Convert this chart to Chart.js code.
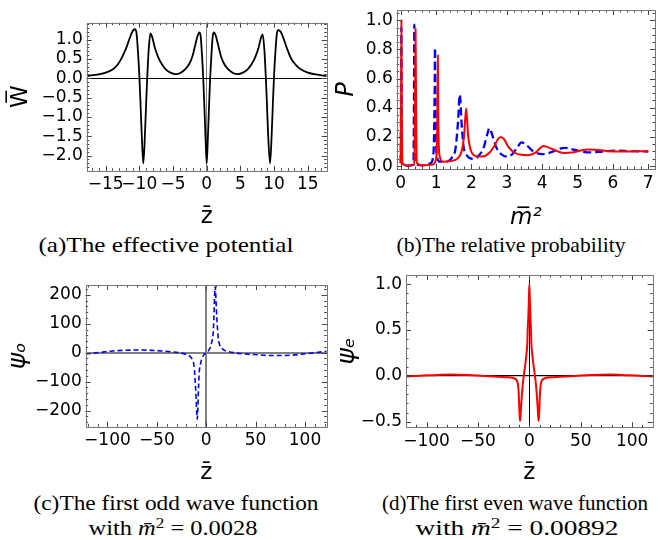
<!DOCTYPE html>
<html><head><meta charset="utf-8">
<script src="https://cdn.jsdelivr.net/npm/chart.js@4.4.1/dist/chart.umd.min.js"></script>
<style>
html,body{margin:0;padding:0;background:#fff;width:665px;height:540px;overflow:hidden}
canvas{position:absolute}
.cap{position:absolute;font-family:"Liberation Serif",serif;font-size:21px;color:#000;white-space:nowrap;line-height:25px;transform:translateX(-50%)}
.cap sup{font-size:0.7em;vertical-align:0.45em;line-height:0}
</style></head><body>
<canvas id="ca" width="332" height="232" style="left:0;top:0"></canvas>
<canvas id="cb" width="333" height="232" style="left:332px;top:0"></canvas>
<canvas id="cc" width="332" height="220" style="left:0;top:270px"></canvas>
<canvas id="cd" width="333" height="220" style="left:332px;top:270px"></canvas>
<div class="cap" data-w="255" style="left:165.5px;top:233px">(a)The effective potential</div>
<div class="cap" data-w="229" style="left:511px;top:233px">(b)The relative probability</div>
<div class="cap" data-w="285" style="left:175.5px;top:491px">(c)The first odd wave function</div>
<div class="cap" data-w="169" style="left:172.5px;top:516px">with <i>m̄</i><sup>2</sup> = 0.0028</div>
<div class="cap" data-w="266" style="left:515px;top:491px">(d)The first even wave function</div>
<div class="cap" data-w="203" style="left:516.5px;top:516px">with <i>m̄</i><sup>2</sup> = 0.00892</div>
<script>
// ---------- (a) effective potential ----------
const zA = [-17.8,-16.5,-15.5,-14.5,-13.8,-13.2,-12.6,-11.9,-11.4,-11.0,-10.65,-10.4,-10.2,-10.0,-9.85,-9.65,-9.4,-9.15,-8.95,-8.8,-8.6,-8.35,-8.1,-7.7,-7.2,-6.6,-6.0,-5.3,-4.6,-3.9,-3.2,-2.6,-2.1,-1.7,-1.35,-1.1,-0.9,-0.7,-0.5,-0.33,-0.16,0,0.16,0.33,0.5,0.7,0.9,1.1,1.35,1.7,2.1,2.6,3.2,3.9,4.6,5.3,6.0,6.6,7.2,7.7,8.05,8.3,8.55,8.75,8.9,9.1,9.4,9.65,9.85,10.0,10.2,10.4,10.6,11.0,11.4,11.9,12.5,13.2,14.0,15.0,16.2,17.8];
const wA = [0.06,0.09,0.12,0.18,0.25,0.36,0.53,0.8,1.05,1.22,1.27,1.15,0.7,0.1,-0.5,-1.4,-2.2,-1.4,-0.5,0.1,0.75,1.16,1.08,0.8,0.55,0.35,0.22,0.14,0.11,0.14,0.23,0.37,0.58,0.86,1.1,1.19,1.1,0.6,-0.05,-0.8,-1.6,-2.2,-1.6,-0.8,-0.05,0.6,1.1,1.19,1.1,0.86,0.58,0.37,0.23,0.14,0.11,0.14,0.22,0.35,0.55,0.8,1.05,1.14,0.75,0.1,-0.5,-1.4,-2.2,-1.4,-0.5,0.1,0.7,1.15,1.25,1.2,1.03,0.78,0.52,0.35,0.23,0.15,0.1,0.06];
const xTicksA = [-15,-10,-5,0,5,10,15];
const yTicksA = [-2,-1.5,-1,-0.5,0,0.5,1];

// ---------- (b) relative probability ----------
const mRed = [0.0,0.012,0.02,0.028,0.04,0.2,0.38,0.405,0.42,0.435,0.46,0.6,0.9,1.0,1.035,1.05,1.065,1.1,1.2,1.4,1.6,1.72,1.79,1.85,1.91,1.98,2.1,2.3,2.5,2.65,2.75,2.83,2.92,3.05,3.2,3.4,3.6,3.8,3.95,4.03,4.15,4.35,4.6,4.9,5.1,5.3,5.5,5.8,6.2,6.6,7.0];
const pRed = [0.02,0.5,1.0,0.5,0.02,0.003,0.01,0.4,0.94,0.4,0.02,0.005,0.01,0.05,0.3,0.76,0.3,0.07,0.03,0.035,0.05,0.1,0.2,0.395,0.2,0.11,0.07,0.065,0.09,0.14,0.185,0.2,0.185,0.13,0.095,0.077,0.075,0.09,0.125,0.137,0.13,0.11,0.09,0.095,0.107,0.114,0.112,0.104,0.1,0.101,0.102];
const mBlue = [0.0,0.01,0.018,0.026,0.04,0.2,0.36,0.375,0.385,0.395,0.42,0.6,0.85,0.93,0.96,0.97,0.98,1.01,1.1,1.3,1.45,1.55,1.62,1.67,1.72,1.78,1.88,2.05,2.2,2.35,2.45,2.51,2.58,2.7,2.85,3.0,3.15,3.3,3.42,3.55,3.75,4.0,4.25,4.5,4.65,4.85,5.1,5.35,5.7,6.1,6.5,7.0];
const pBlue = [0.02,0.5,0.95,0.5,0.02,0.003,0.01,0.4,0.97,0.4,0.02,0.005,0.02,0.1,0.5,0.81,0.5,0.1,0.03,0.03,0.06,0.12,0.3,0.49,0.3,0.13,0.07,0.05,0.07,0.13,0.22,0.26,0.22,0.13,0.08,0.065,0.08,0.13,0.162,0.145,0.1,0.082,0.095,0.12,0.125,0.115,0.1,0.094,0.1,0.106,0.102,0.1];
const xTicksB = [0,1,2,3,4,5,6,7];
const yTicksB = [0,0.2,0.4,0.6,0.8,1.0];

// ---------- (c) first odd wave function ----------
const zC = [-122,-115,-105,-95,-85,-75,-65,-55,-45,-35,-28,-21,-18,-15.8,-13.5,-12.3,-11.5,-10.7,-10.2,-9.6,-9.1,-8.4,-8,-7.4,-7,-5.7,-4,-2.5,0,2.5,4,5.7,7,7.4,8,8.4,9.1,9.6,10.2,10.7,11.5,12.3,13.5,15.8,18,21,28,35,45,55,65,75,85,95,105,115,122];
const psiO = [-4.5,-2,2,6,8,9,9,8,6,3,0,-5,-9,-15,-28,-46,-80,-124,-160,-205,-230,-190,-140,-90,-65,-38,-17,-8,0,8,17,38,65,90,140,190,228,205,160,124,80,46,28,15,9,5,0,-3,-6,-8,-10,-10,-9,-6,-2,2,5];
const xTicksC = [-100,-50,0,50,100];
const yTicksC = [-200,-100,0,100,200];

// ---------- (d) first even wave function ----------
const zD = [-120,-110,-95,-78,-60,-45,-30,-20,-15,-12.5,-11,-10.3,-9.6,-9.1,-8.7,-8,-7,-6,-5,-4,-3,-2,-1.6,-1,-0.5,0,0.5,1,1.6,2,3,4,5,6,7,8,8.7,9.1,9.6,10.3,11,12.5,15,20,30,45,60,78,95,110,120];
const psiE = [-0.005,0.0,0.008,0.015,0.01,0.0,-0.01,-0.015,-0.025,-0.045,-0.1,-0.2,-0.4,-0.49,-0.45,-0.33,-0.17,-0.05,0.04,0.12,0.22,0.35,0.5,0.65,0.82,1.0,0.82,0.65,0.5,0.35,0.22,0.12,0.04,-0.05,-0.17,-0.33,-0.45,-0.49,-0.4,-0.2,-0.1,-0.045,-0.025,-0.015,-0.01,0.0,0.01,0.015,0.008,0.0,-0.005];
const xTicksD = [-100,-50,0,50,100];
const yTicksD = [-0.5,0,0.5,1.0];

// ---------- helpers ----------
const pts = (xs, ys) => xs.map((x, i) => ({x, y: ys[i]}));
const fmt = (v, d) => v.toFixed(d).replace('-', '\u2212');
const SANS = "'DejaVu Sans', sans-serif";

const frameTicks = {
  id: 'frameTicks',
  afterDatasetsDraw(chart, args, o) {
    const {ctx, chartArea: a, scales: {x, y}} = chart;
    ctx.save();
    ctx.lineWidth = 1;
    ctx.strokeStyle = '#444';
    const seg = (x1, y1, x2, y2) => { ctx.beginPath(); ctx.moveTo(x1, y1); ctx.lineTo(x2, y2); ctx.stroke(); };
    const marks = (sc, step, len, horiz) => {
      const lo = Math.ceil((sc.min - 1e-9) / step), hi = Math.floor((sc.max + 1e-9) / step);
      for (let k = lo; k <= hi; k++) {
        const p = Math.round(sc.getPixelForValue(k * step)) + 0.5;
        if (horiz) { seg(p, a.bottom, p, a.bottom - len); seg(p, a.top, p, a.top + len); }
        else { seg(a.left, p, a.left + len, p); seg(a.right, p, a.right - len, p); }
      }
    };
    marks(x, o.xMajor, 5, true); marks(x, o.xMinor, 2.5, true);
    marks(y, o.yMajor, 5, false); marks(y, o.yMinor, 2.5, false);
    ctx.strokeStyle = '#777';
    ctx.strokeRect(Math.round(a.left) + 0.5, Math.round(a.top) + 0.5, Math.round(a.right - a.left), Math.round(a.bottom - a.top));
    ctx.restore();
  }
};

function build(id, o) {
  const cv = document.getElementById(id);
  const zeroGrid = (col, w) => ({
    drawTicks: false, drawOnChartArea: true,
    color: c => (c.tick && Math.abs(c.tick.value) < 1e-12) ? col : 'rgba(0,0,0,0)',
    lineWidth: w
  });
  return new Chart(cv, {
    type: 'line',
    data: {datasets: o.datasets},
    options: {
      responsive: false, animation: false, events: [],
      layout: {padding: {left: 0, top: o.area.t, right: cv.width - o.area.r, bottom: 0}},
      plugins: {legend: {display: false}, tooltip: {enabled: false},
        frameTicks: {xMajor: o.xMajor, xMinor: o.xMinor, yMajor: o.yMajor, yMinor: o.yMinor}},
      elements: {point: {radius: 0}, line: {cubicInterpolationMode: 'monotone', borderCapStyle: 'butt', borderJoinStyle: 'round'}},
      scales: {
        x: {
          type: 'linear', min: o.xMin, max: o.xMax,
          afterBuildTicks: s => { s.ticks = o.xTicks.map(v => ({value: v})); },
          afterFit: s => { s.height = cv.height - o.area.b; s.paddingLeft = 0; s.paddingRight = 0; },
          grid: zeroGrid(o.zeroXCol, o.zeroXW),
          border: {display: false},
          ticks: {autoSkip: false, maxRotation: 0, minRotation: 0, padding: 4, color: '#000',
            font: {family: SANS, size: 17}, callback: v => fmt(v, o.xDec)},
          title: {display: true, text: o.xTitle, color: '#000',
            font: {family: SANS, size: 23, style: o.xStyle}, padding: {top: 0, bottom: o.xTitlePad}}
        },
        y: {
          type: 'linear', min: o.yMin, max: o.yMax,
          afterBuildTicks: s => { s.ticks = o.yTicks.map(v => ({value: v})); },
          afterFit: s => { s.width = o.area.l; s.paddingTop = 0; s.paddingBottom = 0; },
          grid: zeroGrid(o.zeroYCol, o.zeroYW),
          border: {display: false},
          ticks: {autoSkip: false, padding: 4, color: '#000',
            font: {family: SANS, size: 17}, callback: v => fmt(v, o.yDec)},
          title: {display: true, text: o.yTitle, color: '#000',
            font: {family: SANS, size: o.yTitleSize, style: o.yStyle}, padding: {top: o.yTitlePad, bottom: 0}}
        }
      }
    },
    plugins: [frameTicks]
  });
}

build('ca', {
  area: {l: 86.7, t: 22.7, r: 326.7, b: 170.7},
  xMin: -17.8, xMax: 17.8, yMin: -2.39, yMax: 1.44,
  xTicks: xTicksA, yTicks: yTicksA, xDec: 0, yDec: 1,
  xMajor: 5, xMinor: 1, yMajor: 0.5, yMinor: 0.1,
  zeroXCol: '#808080', zeroXW: 1, zeroYCol: '#000', zeroYW: 1,
  xTitle: 'z\u0304', xStyle: 'normal', xTitlePad: 1,
  yTitle: 'W\u0305', yStyle: 'normal', yTitleSize: 23, yTitlePad: 7,
  datasets: [{data: pts(zA, wA), borderColor: '#000', borderWidth: 1.8}]
});

build('cb', {
  area: {l: 64.7, t: 10, r: 323, b: 169},
  xMin: -0.113, xMax: 7.19, yMin: -0.02, yMax: 1.07,
  xTicks: xTicksB, yTicks: yTicksB, xDec: 0, yDec: 1,
  xMajor: 1, xMinor: 0.2, yMajor: 0.2, yMinor: 0.05,
  zeroXCol: 'rgba(0,0,0,0)', zeroXW: 1, zeroYCol: 'rgba(0,0,0,0)', zeroYW: 1,
  xTitle: 'm\u0305\u00B2', xStyle: 'italic', xTitlePad: 0,
  yTitle: 'P', yStyle: 'italic', yTitleSize: 24, yTitlePad: 0,
  datasets: [
    {data: pts(mRed, pRed), borderColor: '#ff0000', borderWidth: 2},
    {data: pts(mBlue, pBlue), borderColor: '#0000ff', borderWidth: 2.3, borderDash: [8, 4]}
  ]
});

build('cc', {
  area: {l: 85.7, t: 15, r: 326.7, b: 156.7},
  xMin: -122, xMax: 122, yMin: -256, yMax: 234,
  xTicks: xTicksC, yTicks: yTicksC, xDec: 0, yDec: 0,
  xMajor: 50, xMinor: 10, yMajor: 100, yMinor: 20,
  zeroXCol: '#808080', zeroXW: 2, zeroYCol: '#808080', zeroYW: 2,
  xTitle: 'z\u0304', xStyle: 'normal', xTitlePad: 3,
  yTitle: '\u03C8\u2092', yStyle: 'italic', yTitleSize: 25, yTitlePad: 3,
  datasets: [{data: pts(zC, psiO), borderColor: '#0000ff', borderWidth: 1.6, borderDash: [5, 3]}]
});

build('cd', {
  area: {l: 74, t: 5, r: 320.7, b: 157.3},
  xMin: -120, xMax: 120, yMin: -0.56, yMax: 1.1,
  xTicks: xTicksD, yTicks: yTicksD, xDec: 0, yDec: 1,
  xMajor: 50, xMinor: 10, yMajor: 0.5, yMinor: 0.1,
  zeroXCol: '#000', zeroXW: 1, zeroYCol: '#000', zeroYW: 1.3,
  xTitle: 'z\u0304', xStyle: 'normal', xTitlePad: 3,
  yTitle: '\u03C8\u2091', yStyle: 'italic', yTitleSize: 25, yTitlePad: 0,
  datasets: [{data: pts(zD, psiE), borderColor: '#ff0000', borderWidth: 2}]
});

// stretch each caption line to the width it has in the reference figure
function fitCaptions() {
  document.querySelectorAll('.cap').forEach(el => {
    el.style.transform = 'translateX(-50%)';
    const w = el.getBoundingClientRect().width;
    el.style.transform = 'translateX(-50%) scaleX(' + (+el.dataset.w / w) + ')';
  });
}
fitCaptions();
if (document.fonts && document.fonts.ready) document.fonts.ready.then(fitCaptions);
</script>
</body></html>
